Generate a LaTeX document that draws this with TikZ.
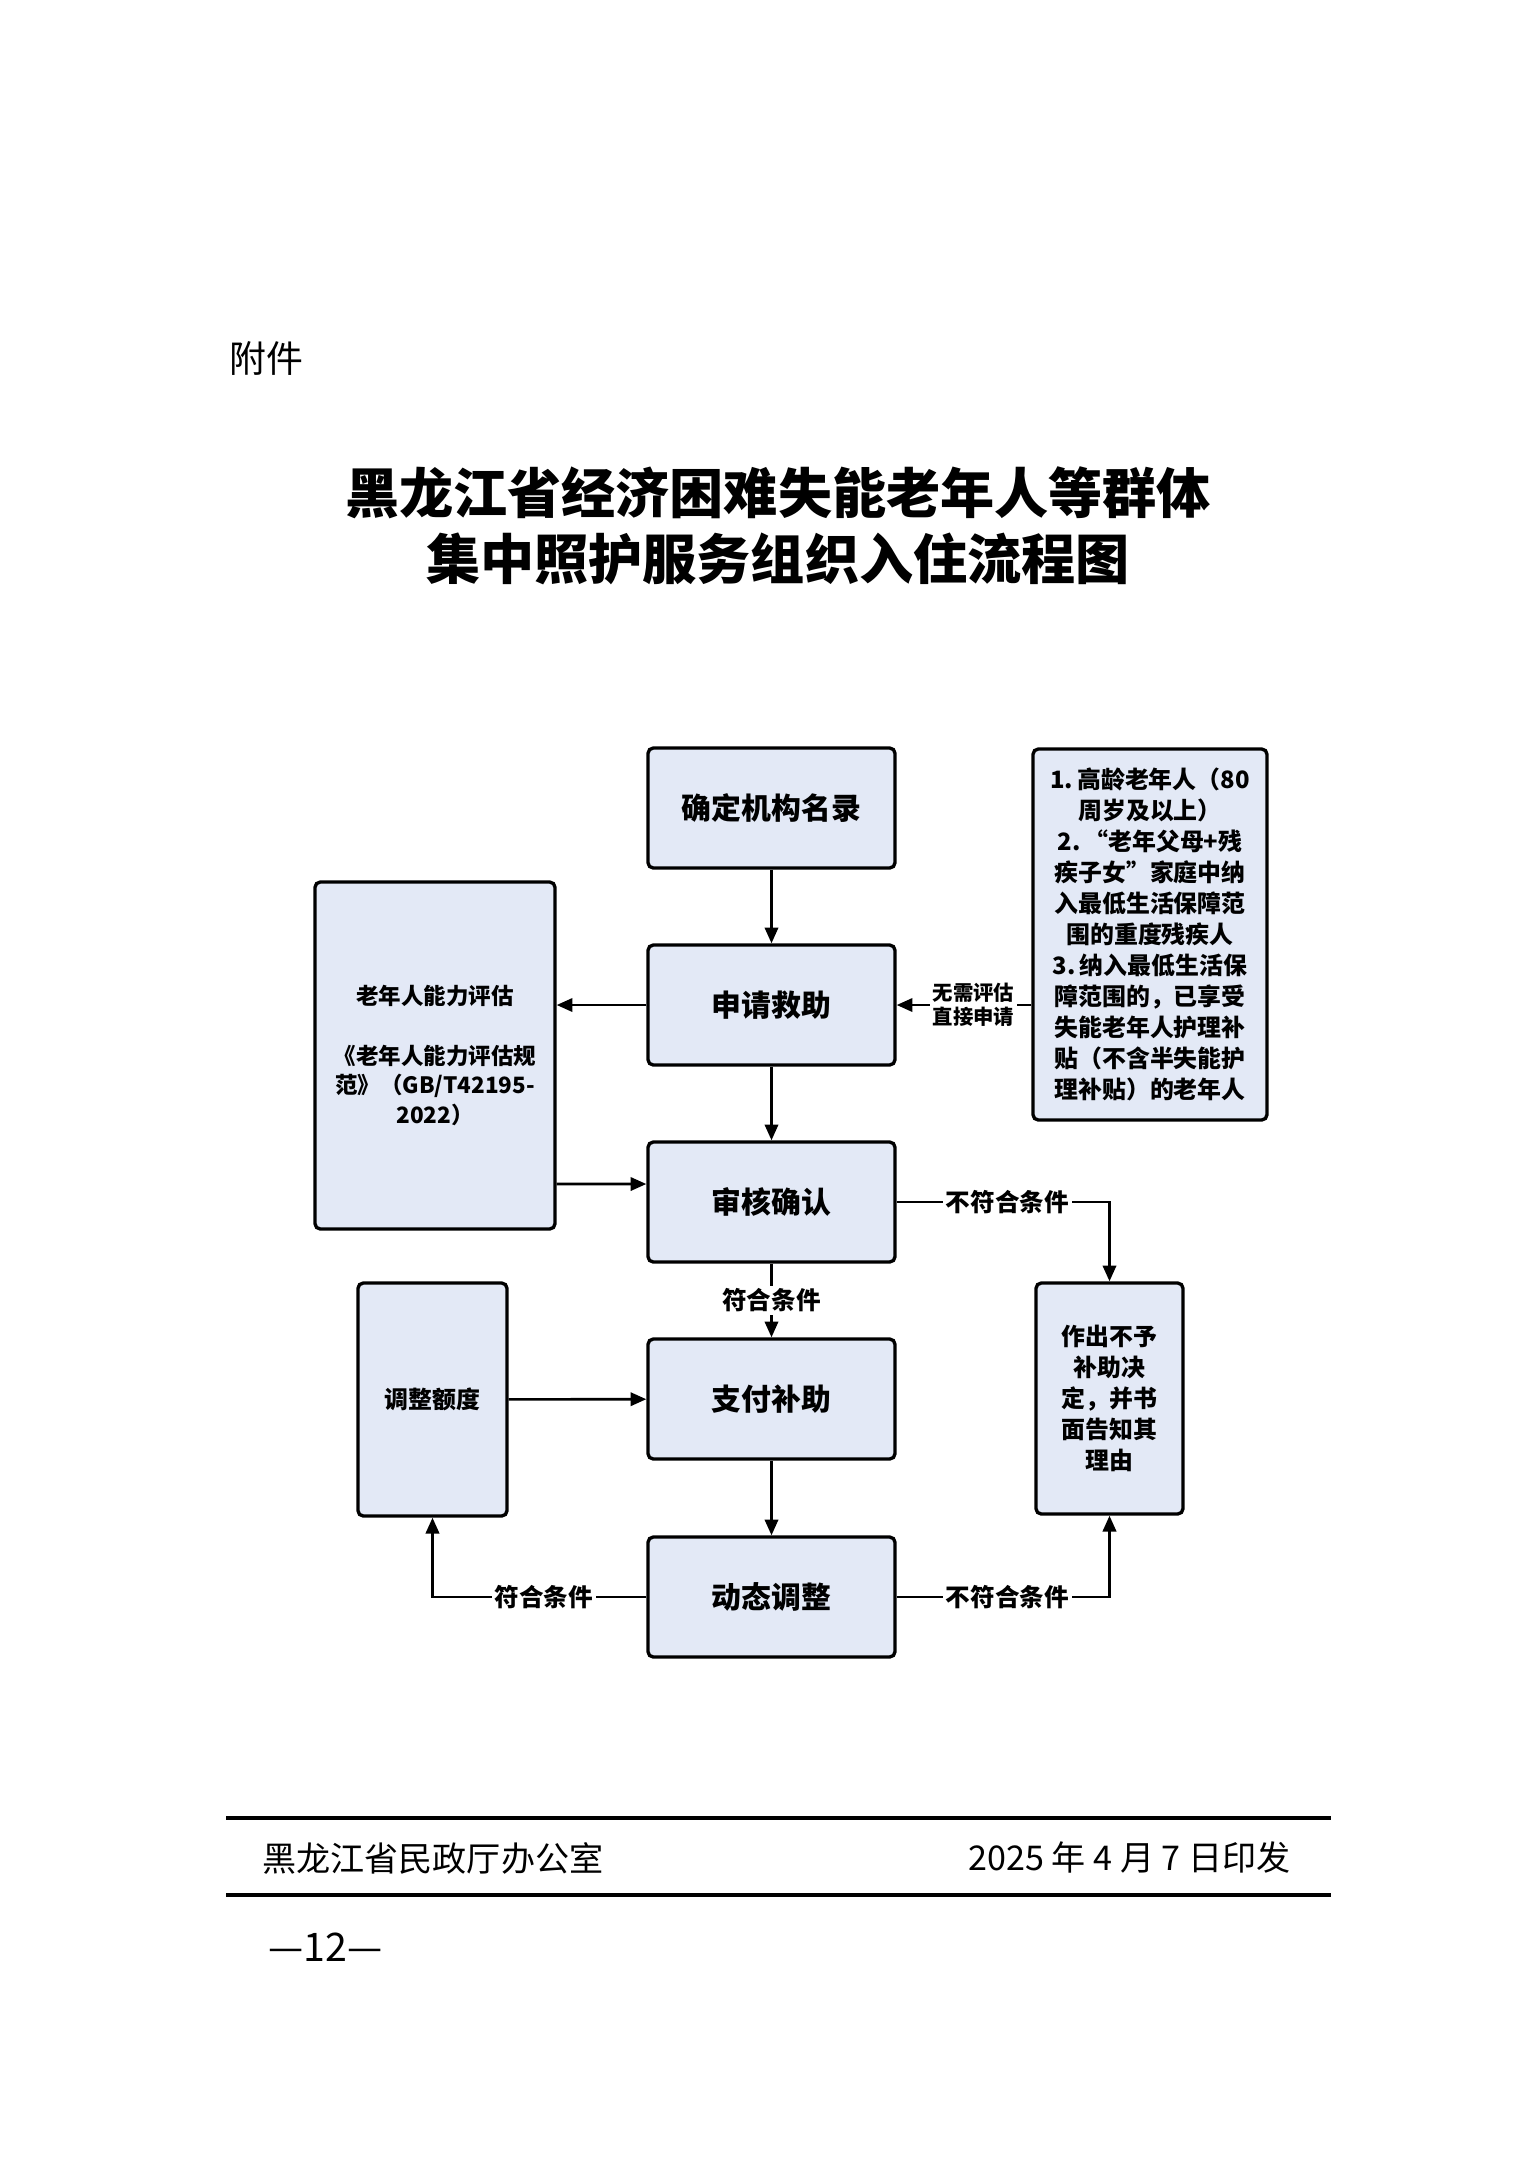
\documentclass[tikz,border=0pt]{standalone}
\usepackage{fontspec}
\setmainfont{Noto Sans CJK SC}
\usepackage{xcolor}
\definecolor{boxfill}{RGB}{227,233,246}
\usetikzlibrary{arrows.meta}
\newcommand{\widthstep}{2.47cm}
\newcommand{\heightstep}{1.20cm}
\newcommand{\fsize}[2]{\fontsize{#1}{#2}\selectfont}
\tikzset{
    common/.style={draw=black, line width=0.95pt, rounded corners=1.5pt, fill=boxfill, align=center, inner sep=0pt},
    stepbox/.style={common, minimum width=\widthstep, minimum height=\heightstep, font=\fsize{8.5}{10}\bfseries},
    sidebox/.style={common, font=\fsize{6.8}{8.8}\bfseries},
    flow/.style={-{Triangle[length=4.5pt, width=3.8pt]}, line width=0.75pt},
    cond/.style={fill=white, inner sep=0.8pt, align=center, font=\fsize{7}{8}\bfseries},
    rule/.style={line width=0.9pt}
}

\begin{document}
\begin{tikzpicture}
    \path[fill=white] (0,0) rectangle (15.36,-21.76);
    \useasboundingbox (0,0) rectangle (15.36,-21.76);

    % heading
    \node[font=\fsize{10.5}{12}] (annex) at (2.66,-3.58) {附件};
    \node[font=\fsize{15.4}{18.8}\bfseries, align=center] (title) at (7.78,-5.26)
        {黑龙江省经济困难失能老年人等群体\\集中照护服务组织入住流程图};

    % main column
    \node[stepbox] (list)   at (7.715,-8.08)  {确定机构名录};
    \node[stepbox] (apply)  at (7.715,-10.05) {申请救助};
    \node[stepbox] (review) at (7.715,-12.02) {审核确认};
    \node[stepbox] (pay)    at (7.715,-13.99) {支付补助};
    \node[stepbox] (adjust) at (7.715,-15.97) {动态调整};

    % side boxes
    \node[sidebox, font=\fsize{6.4}{8.5}\bfseries, minimum width=2.40cm, minimum height=3.47cm]
        (assess) at (4.35,-10.555)
        {老年人能力评估\\ \\《老年人能力评估规\\范》（GB/T42195-\\2022）};
    \node[sidebox, minimum width=2.34cm, minimum height=3.71cm] (criteria) at (11.50,-9.345)
        {1.\,高龄老年人（80\\周岁及以上）\\2.\,“老年父母+残\\疾子女”家庭中纳\\入最低生活保障范\\围的重度残疾人\\3.\,纳入最低生活保\\障范围的，已享受\\失能老年人护理补\\贴（不含半失能护\\理补贴）的老年人};
    \node[sidebox, minimum width=1.49cm, minimum height=2.33cm] (quota) at (4.325,-13.995) {调整额度};
    \node[sidebox, minimum width=1.47cm, minimum height=2.31cm] (refuse) at (11.095,-13.985)
        {作出不予\\补助决\\定，并书\\面告知其\\理由};

    % connectors
    \draw[flow] (list) -- (apply);
    \draw[flow] (apply) -- (review);
    \draw[flow] (review) -- node[cond] {符合条件} (pay);
    \draw[flow] (pay) -- (adjust);
    \draw[flow] (apply.west) -- (assess.east |- apply.west);
    \draw[flow] ([yshift=-12.85mm]assess.east) -- ([yshift=1.8mm]review.west);
    \draw[flow] (quota) -- (pay);
    \draw[flow] (criteria.west |- apply.east) -- node[cond, pos=0.43, font=\fsize{5.8}{6.9}\bfseries] {无需评估\\直接申请} (apply.east);
    \draw[flow] (review.east) -| node[cond, pos=0.26] {不符合条件} (refuse);
    \draw[flow] (adjust.east) -| node[cond, pos=0.26] {不符合条件} (refuse);
    \draw[flow] (adjust.west) -| node[cond, pos=0.24] {符合条件} (quota);

    % footer
    \draw[rule] (2.26,-18.18) -- (13.31,-18.18);
    \draw[rule] (2.26,-18.95) -- (13.31,-18.95);
    \node[anchor=west, font=\fsize{9.7}{11}] (office) at (2.50,-18.58) {黑龙江省民政厅办公室};
    \node[anchor=east, font=\fsize{9.7}{11}] (date) at (13.03,-18.58) {2025 年 4 月 7 日印发};
    \node[anchor=west, font=\fsize{11.2}{12}] (page) at (2.56,-19.47) {—12—};
\end{tikzpicture}
\end{document}
